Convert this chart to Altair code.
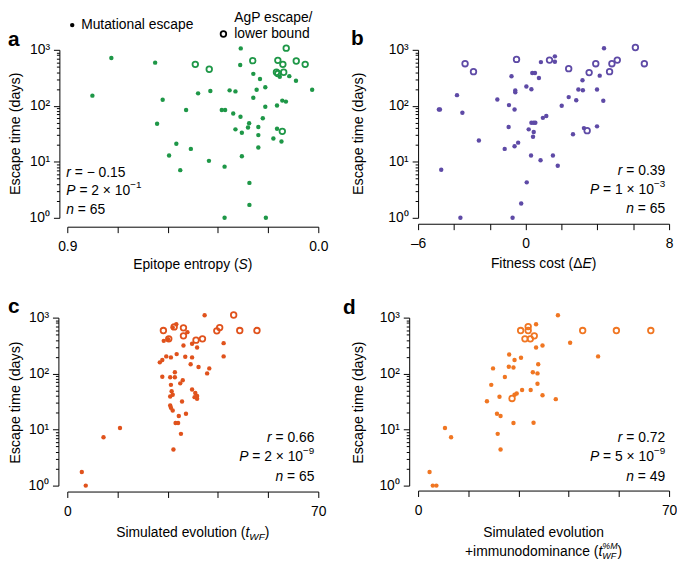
import altair as alt
import pandas as pd

# ---------------- data ----------------
# Panel a: epitope entropy S vs escape time (days)
a_filled_S = [0.810, 0.742, 0.585, 0.558, 0.578, 0.474, 0.431, 0.387, 0.509, 0.457,
              0.535, 0.495, 0.392, 0.336, 0.336, 0.188, 0.247, 0.247, 0.278, 0.280,
              0.233, 0.209, 0.233, 0.221, 0.190, 0.318, 0.297, 0.346, 0.334, 0.305,
              0.279, 0.297, 0.274, 0.252, 0.248, 0.215, 0.215, 0.199, 0.190, 0.215,
              0.274, 0.161, 0.148, 0.132, 0.148, 0.129, 0.116, 0.138, 0.104, 0.080,
              0.022]
a_filled_T = [152, 713, 590, 128, 48, 84, 167, 184, 21, 17,
              13, 7.1, 10.4, 8.2, 1, 1, 1.7, 4.2, 1060, 535,
              372, 302, 139, 194, 214, 189, 181, 84, 84, 73,
              64, 38, 33, 41, 49, 42, 30, 60, 96, 18,
              12.6, 26, 39, 23, 101, 124, 119, 330, 339, 280,
              194]
a_open_S = [0.441, 0.391, 0.235, 0.145, 0.127, 0.115, 0.079, 0.047, 0.150, 0.124, 0.129, 0.145]
a_open_T = [551, 450, 640, 649, 551, 1070, 631, 551, 398, 398, 35, 377]

# Panel b: fitness cost dE vs escape time
b_filled_E = [-4.84, -4.78, -4.71, -3.83, -3.53, -3.64, -2.61, -1.58, -0.93, -0.95,
              -0.79, -1.17, -0.58, -0.58, -0.62, -0.62, -0.42, -0.73, -0.25, 0.06,
              0.04, 0.17, 0.32, 0.37, 0.52, 0.74, 0.30, 0.41, 0.45, 0.32,
              0.45, 0.54, 0.85, 0.83, 0.96, 1.15, 1.63, 1.63, 1.52, 1.79,
              2.01, 2.40, 2.64, 2.82, 2.94, 3.19, 3.17, 3.25, 3.98, 3.98,
              4.13, 4.33, 4.37]
b_filled_T = [86, 86, 7.2, 155, 75, 1, 24, 130, 103, 42,
              337, 17, 174, 188, 86, 19, 22, 1, 1.8, 4.3,
              221, 38, 198, 386, 386, 315, 13, 28, 34, 50,
              50, 50, 604, 10.7, 61, 66, 765, 612, 13, 8.5,
              100, 143, 31, 126, 196, 190, 286, 40, 196, 43,
              346, 123, 1070]
b_open_E = [-3.38, -2.91, -0.51, 1.33, 2.40, 3.54, 3.91, 3.43, 4.68, 4.81, 5.11, 6.12, 6.62]
b_open_T = [565, 408, 674, 656, 461, 392, 565, 36, 408, 565, 656, 1100, 565]

# Panel c: simulated evolution t_WF vs escape time
c_filled_t = [4.05, 5.15, 10.1, 14.7, 29.6, 31.7, 30.2, 30.9, 31.1, 33.1,
              32.0, 28.7, 28.9, 29.4, 29.1, 29.4, 28.7, 34.8, 35.7, 36.2,
              36.2, 35.5, 31.5, 32.2, 28.9, 28.7, 30.0, 30.0, 26.5, 25.8,
              26.5, 27.6, 28.9, 30.5, 32.9, 34.8, 34.4, 36.6, 39.0, 39.6,
              43.6, 43.6, 26.9, 28.1, 32.4, 34.8, 36.2, 33.5, 30.4, 29.4,
              38.3]
c_filled_T = [1.75, 1, 7.3, 10.7, 4.4, 8.4, 13.1, 13.1, 17.5, 19.2,
              31.8, 27, 24.5, 22, 48.5, 42, 39, 52, 45, 40,
              35.5, 38, 67, 76, 63, 86, 86, 106, 88, 159,
              175, 203, 195, 223, 200, 195, 147, 131, 101, 124,
              203, 350, 385, 412, 318, 341, 293, 550, 760, 664,
              1100]
c_open_t = [26.8, 29.8, 32.4, 32.4, 28.3, 35.9, 37.7, 41.7, 42.5, 46.4, 48.1, 52.9]
c_open_T = [588, 683, 656, 473, 418, 396, 418, 580, 664, 1115, 588, 588]

# Panel d: simulated evolution + immunodominance vs escape time
d_filled_t = [3.2, 4.1, 5.1, 7.5, 9.2, 23.0, 22.2, 22.0, 23.0, 26.6,
              32.2, 19.2, 22.7, 20.4, 20.9, 24.2, 25.3, 26.6, 25.4, 26.9,
              28.7, 26.9, 27.5, 29.0, 31.4, 32.0, 33.3, 33.3, 33.5, 34.7,
              38.4, 32.9, 34.7, 32.9, 39.0, 42.4, 50.2]
d_filled_T = [1.75, 1, 1, 10.7, 7.3, 4.4, 8.4, 19.2, 17.5, 13.1,
              13.3, 32, 38.5, 63, 124, 87, 133, 129, 220, 175,
              192, 42, 44, 51, 51, 106, 101, 66, 147, 41,
              35, 293, 318, 762, 1100, 355, 203]
d_open_t = [28.6, 30.7, 30.7, 29.8, 31.3, 32.4, 26.2, 45.9, 55.3, 64.9]
d_open_T = [588, 692, 588, 418, 418, 473, 36, 588, 588, 588]

# ---------------- styling / layout ----------------
FONT = "Liberation Sans"
PW, PH = 254, 170
GREEN = "#1e9747"
PURPLE = "#5e4aa6"
REDOR = "#e0521c"
ORANGE = "#f07622"

ADV = {' ': 278, '(': 333, ')': 333, '+': 584, '-': 333, '.': 278, '/': 278, '=': 584,
       '%': 889, '×': 584, '−': 584, '–': 556, 'Δ': 668,
       'A': 667, 'E': 667, 'F': 611, 'M': 833, 'P': 667, 'S': 667, 'W': 944,
       'a': 556, 'b': 556, 'c': 500, 'd': 556, 'e': 556, 'f': 278, 'g': 556, 'h': 556,
       'i': 222, 'l': 222, 'm': 833, 'n': 556, 'o': 556, 'p': 556, 'r': 333, 's': 500,
       't': 278, 'u': 556, 'v': 500, 'w': 722, 'y': 500}


def text_width(s, size):
    return sum(ADV.get(ch, 556) for ch in s) * size / 1000.0


dummy = pd.DataFrame({"d": [0]})


def txt(s, x, y, size=14, italic=False, bold=False, align="left",
        baseline="middle", angle=None, color="black"):
    kw = dict(text=s, font=FONT, fontSize=size, align=align, baseline=baseline, color=color)
    if italic:
        kw["fontStyle"] = "italic"
    if bold:
        kw["fontWeight"] = "bold"
    if angle is not None:
        kw["angle"] = angle
    return alt.Chart(dummy).mark_text(**kw).encode(x=alt.value(x), y=alt.value(y))


def seg_line(segs, x, y, anchor="left"):
    # segs: (text, size, italic, dy, advance_override)
    def adv(s):
        if len(s) > 4 and s[4] is not None:
            return s[4]
        return text_width(s[0], s[1])
    total = sum(adv(s) for s in segs)
    if anchor == "left":
        cur = x
    elif anchor == "right":
        cur = x - total
    else:
        cur = x - total / 2.0
    out = []
    for s in segs:
        t, size, ital, dy = s[:4]
        stripped = t.lstrip(" ")
        lead = text_width(t[:len(t) - len(stripped)], size)
        out.append(txt(stripped, cur + lead, y + dy, size=size, italic=ital))
        cur += adv(s)
    return out


def stats(r, p_mant, p_exp, n, anchor, x, ys):
    layers = []
    layers += seg_line([("r", 14, True, 0), (" = " + r, 14, False, 0)], x, ys[0], anchor)
    layers += seg_line([("P", 14, True, 0), (" = " + p_mant + " × 10", 14, False, 0),
                        (p_exp, 10, False, -6)], x, ys[1], anchor)
    layers += seg_line([("n", 14, True, 0), (" = " + n, 14, False, 0)], x, ys[2], anchor)
    return layers


MAJOR = "datum.value == 1 || datum.value == 10 || datum.value == 100 || datum.value == 1000"
YVALS = [1, 2, 3, 4, 5, 6, 7, 8, 9, 10, 20, 30, 40, 50, 60, 70, 80, 90,
         100, 200, 300, 400, 500, 600, 700, 800, 900, 1000]
YLAB = ("datum.value == 1 ? '10⁰' : datum.value == 10 ? '10¹' : "
        "datum.value == 100 ? '10²' : datum.value == 1000 ? '10³' : ''")

DOT = 20
RING = 32


def panel(fx, fy, ox, oy, color, xdom, xrev, xvals, xlab, yoff, xoff, extras):
    xs = alt.Scale(domain=xdom, reverse=xrev, nice=False, zero=False)
    ys = alt.Scale(type="log", domain=[1, 1000], nice=False)
    xax = alt.Axis(values=xvals, labelExpr=xlab, offset=xoff, title=None, tickSize=6,
                   labelPadding=7, labelFlush=False, labelOverlap=False, grid=False)
    yax = alt.Axis(values=YVALS, labelExpr=YLAB, offset=yoff, title=None,
                   tickSize={"condition": {"test": MAJOR, "value": 6}, "value": 3},
                   labelPadding=4, labelOverlap=False, grid=False)
    filled = alt.Chart(pd.DataFrame({"x": fx, "y": fy})).mark_circle(
        size=DOT, color=color, opacity=1).encode(
        x=alt.X("x:Q", scale=xs, axis=xax), y=alt.Y("y:Q", scale=ys, axis=yax))
    opened = alt.Chart(pd.DataFrame({"x": ox, "y": oy})).mark_point(
        shape="circle", filled=False, size=RING, strokeWidth=1.8, color=color, opacity=1).encode(
        x=alt.X("x:Q", scale=xs, axis=xax), y=alt.Y("y:Q", scale=ys, axis=yax))
    return alt.layer(filled, opened, *extras).properties(width=PW, height=PH)


YT = "Escape time (days)"
YTS = 14.5

# panel a
a_extra = [txt("a", -60, -4, size=21, bold=True, baseline="alphabetic"),
           txt(YT, -52, 85, size=YTS, angle=270, align="center")]
a_extra += stats("− 0.15", "2", "−1", "65", "left", -1, [125, 143, 162])
a_extra += seg_line([("Epitope entropy (", 14, False, 0), ("S", 14, True, 0), (")", 14, False, 0)],
                    PW / 2, 218, "center")
# legend
a_extra += [
    alt.Chart(dummy).mark_circle(size=DOT, color="black", opacity=1).encode(
        x=alt.value(5), y=alt.value(-25)),
    txt("Mutational escape", 14, -25),
    alt.Chart(dummy).mark_point(shape="circle", filled=False, size=RING, strokeWidth=1.8,
                                color="black", opacity=1).encode(
        x=alt.value(158), y=alt.value(-16)),
    txt("AgP escape/", 169, -32),
    txt("lower bound", 169, -16),
]
A = panel(a_filled_S, a_filled_T, a_open_S, a_open_T, GREEN, [0, 0.9], True,
          [0, 0.18, 0.36, 0.54, 0.72, 0.9],
          "datum.value == 0 ? '0.0' : (datum.value == 0.9 ? '0.9' : '')", 8, 9, a_extra)

# panel b
b_extra = [txt("b", -68, -5, size=21, bold=True, baseline="alphabetic"),
           txt(YT, -60, 85, size=YTS, angle=270, align="center")]
b_extra += stats("0.39", "1", "−3", "65", "right", 250, [123, 142, 161])
b_extra += seg_line([("Fitness cost (", 14, False, 0), ("Δ", 14, False, 0), ("E", 14, True, 0),
                     (")", 14, False, 0)], PW / 2, 217, "center")
B = panel(b_filled_E, b_filled_T, b_open_E, b_open_T, PURPLE, [-6, 8], False,
          [-6, -4, -2, 0, 2, 4, 6, 8],
          "datum.value == -6 ? '–6' : (datum.value == 0 ? '0' : (datum.value == 8 ? '8' : ''))",
          0, 6, b_extra)

# panel c
c_extra = [txt("c", -60, -5, size=21, bold=True, baseline="alphabetic"),
           txt(YT, -52, 86, size=YTS, angle=270, align="center")]
c_extra += stats("0.66", "2", "−9", "65", "right", 250, [122, 141, 161])
c_extra += seg_line([("Simulated evolution (", 14, False, 0), ("t", 14, True, 0),
                     ("WF", 10, True, 4), (")", 14, False, 0)], PW / 2, 218, "center")
C = panel(c_filled_t, c_filled_T, c_open_t, c_open_T, REDOR, [0, 70], False,
          [0, 14, 28, 42, 56, 70],
          "datum.value == 0 ? '0' : (datum.value == 70 ? '70' : '')", 9, 6, c_extra)

# panel d
d_extra = [txt("d", -76, -4, size=21, bold=True, baseline="alphabetic"),
           txt(YT, -60, 86, size=YTS, angle=270, align="center")]
d_extra += stats("0.72", "5", "−9", "49", "right", 250, [122, 141, 161])
d_extra += seg_line([("Simulated evolution", 14, False, 0)], PW / 2, 218, "center")
d_extra += seg_line([("+immunodominance (", 14, False, 0), ("t", 14, True, 0),
                     ("%M", 9, True, -6, 0), ("WF", 9, True, 4, text_width("%M", 9)),
                     (")", 14, False, 0)], PW / 2, 237, "center")
D = panel(d_filled_t, d_filled_T, d_open_t, d_open_T, ORANGE, [0, 70], False,
          [0, 14, 28, 42, 56, 70],
          "datum.value == 0 ? '0' : (datum.value == 70 ? '70' : '')", 9, 5, d_extra)

chart = alt.concat(A, B, C, D, columns=2, spacing=101, bounds="flush").properties(
    padding=0
).configure_view(stroke=None).configure_axis(
    labelFont=FONT, labelFontSize=14, labelColor="black",
    domainColor="black", tickColor="black", domainWidth=1, tickWidth=1
)

chart.save("out.html", embed_options={"renderer": "svg", "actions": False})
